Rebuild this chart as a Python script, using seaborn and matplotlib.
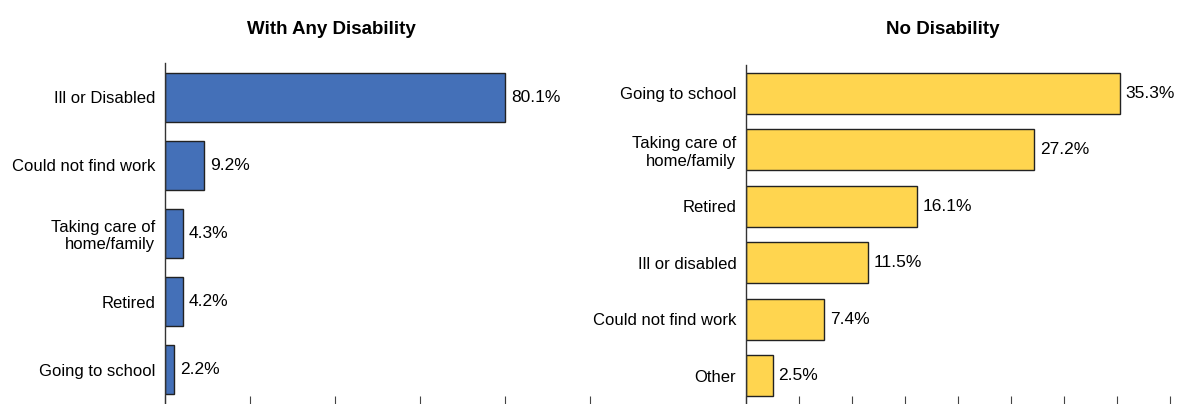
import seaborn as sns
import matplotlib.pyplot as plt
import pandas as pd

# data
dis_reasons = ['Ill or Disabled', 'Could not find work', 'Taking care of\nhome/family', 'Retired', 'Going to school']
dis_values = [80.1, 9.2, 4.3, 4.2, 2.2]

nodis_reasons = ['Going to school', 'Taking care of\nhome/family', 'Retired', 'Ill or disabled', 'Could not find work', 'Other']
nodis_values = [35.3, 27.2, 16.1, 11.5, 7.4, 2.5]

blue = '#4470b8'
yellow = '#ffd54f'

sns.set_style('white')
plt.rcParams['font.family'] = ['Liberation Sans', 'DejaVu Sans']
plt.rcParams['text.color'] = 'black'
plt.rcParams['ytick.color'] = 'black'

fig = plt.figure(figsize=(11.78, 4.04), dpi=100)
ax1 = fig.add_axes([165/1178, 0, (590-165)/1178, (404-63)/404])
ax2 = fig.add_axes([746/1178, 0, (1170-746)/1178, (404-65)/404])

df1 = pd.DataFrame({'reason': dis_reasons, 'pct': dis_values})
df2 = pd.DataFrame({'reason': nodis_reasons, 'pct': nodis_values})

sns.barplot(data=df1, x='pct', y='reason', color=blue, saturation=1, edgecolor='#222222', linewidth=1, width=0.72, ax=ax1)
sns.barplot(data=df2, x='pct', y='reason', color=yellow, saturation=1, edgecolor='#222222', linewidth=1, width=0.72, ax=ax2)

for ax, vals, xmax, step in [(ax1, dis_values, 100, 20), (ax2, nodis_values, 40, 5)]:
    ax.set_xlim(0, xmax)
    ax.set_xticks(range(0, xmax + 1, step))
    ax.set_xticklabels([])
    ax.tick_params(axis='x', direction='in', length=6, color='#444444', bottom=True)
    ax.tick_params(axis='y', length=0, labelsize=12, pad=7, labelcolor='black')
    ax.set_xlabel('')
    ax.set_ylabel('')
    for s in ['top', 'right', 'bottom']:
        ax.spines[s].set_visible(False)
    ax.spines['left'].set_color('#333333')
    ax.spines['left'].set_linewidth(1)
    for lab in ax.get_yticklabels():
        lab.set_horizontalalignment('right')
        lab.set_multialignment('right')
    ax.bar_label(ax.containers[0], labels=[f'{v}%' for v in vals], padding=4, fontsize=12.5, color='black')

fig.text(331/1178, 1 - 30/404, 'With Any Disability', ha='center', va='center', fontsize=13.5, fontweight='bold')
fig.text(943/1178, 1 - 30/404, 'No Disability', ha='center', va='center', fontsize=13.5, fontweight='bold')

fig.savefig('out.png', dpi=100)
